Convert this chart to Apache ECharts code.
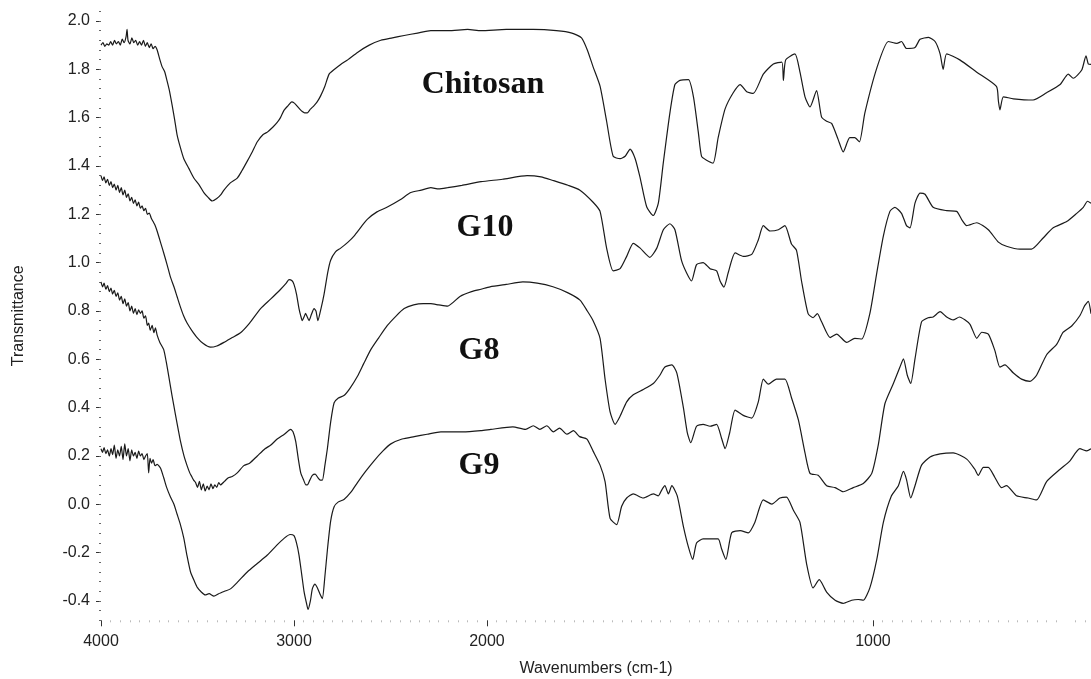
<!DOCTYPE html>
<html><head><meta charset="utf-8">
<script src="https://cdn.jsdelivr.net/npm/echarts@6/dist/echarts.min.js"></script>
<style>html,body{margin:0;padding:0;background:#fff}#c{width:1091px;height:679px}</style>
</head><body><div id="c"></div>
<script>
// ---- data (wavenumber cm-1, transmittance) ----
const chitosan = [[4000,1.90],[3990,1.91],[3980,1.895],[3970,1.905],[3960,1.90],[3950,1.915],[3940,1.90],[3930,1.92],[3920,1.905],[3910,1.915],[3900,1.90],[3890,1.925],[3880,1.91],[3870,1.935],[3865,1.965],[3860,1.92],[3850,1.905],[3840,1.93],[3830,1.91],[3820,1.92],[3810,1.90],[3800,1.915],[3790,1.90],[3780,1.92],[3770,1.895],[3760,1.91],[3750,1.89],[3740,1.905],[3730,1.885],[3720,1.895],[3709,1.88],[3695,1.84],[3683,1.81],[3670,1.79],[3657,1.75],[3645,1.71],[3631,1.65],[3618,1.59],[3606,1.53],[3590,1.48],[3571,1.43],[3545,1.39],[3519,1.35],[3490,1.32],[3467,1.29],[3445,1.27],[3424,1.255],[3400,1.265],[3380,1.28],[3363,1.30],[3330,1.33],[3294,1.35],[3270,1.38],[3242,1.42],[3215,1.46],[3190,1.50],[3160,1.53],[3138,1.54],[3110,1.56],[3087,1.58],[3070,1.60],[3052,1.63],[3030,1.65],[3012,1.665],[2998,1.66],[2986,1.65],[2970,1.635],[2957,1.625],[2945,1.62],[2931,1.62],[2915,1.635],[2896,1.65],[2880,1.665],[2862,1.69],[2840,1.73],[2818,1.78],[2790,1.80],[2758,1.82],[2720,1.84],[2671,1.87],[2610,1.90],[2550,1.92],[2490,1.93],[2429,1.94],[2360,1.95],[2291,1.96],[2200,1.96],[2100,1.965],[2031,1.96],[1950,1.965],[1880,1.965],[1820,1.96],[1780,1.95],[1755,1.93],[1740,1.88],[1725,1.81],[1707,1.73],[1690,1.585],[1673,1.44],[1655,1.43],[1642,1.44],[1629,1.47],[1616,1.43],[1603,1.35],[1586,1.23],[1569,1.195],[1556,1.246],[1543,1.415],[1526,1.62],[1513,1.737],[1500,1.754],[1478,1.757],[1465,1.686],[1452,1.534],[1444,1.44],[1431,1.424],[1414,1.412],[1401,1.517],[1383,1.636],[1362,1.703],[1344,1.737],[1327,1.707],[1310,1.70],[1284,1.78],[1258,1.822],[1236,1.83],[1232,1.754],[1226,1.839],[1202,1.864],[1189,1.788],[1176,1.686],[1163,1.644],[1146,1.712],[1133,1.602],[1120,1.585],[1107,1.576],[1090,1.509],[1077,1.458],[1060,1.517],[1047,1.517],[1035,1.50],[1021,1.619],[990,1.805],[960,1.915],[938,1.907],[926,1.915],[913,1.886],[891,1.89],[878,1.924],[856,1.932],[839,1.915],[826,1.864],[818,1.80],[809,1.864],[775,1.839],[731,1.788],[680,1.729],[675,1.67],[671,1.632],[662,1.686],[636,1.678],[585,1.673],[550,1.703],[515,1.737],[494,1.78],[481,1.763],[459,1.797],[448,1.856],[442,1.822],[435,1.82]];

const g10 = [[4000,1.36],[3992,1.34],[3984,1.355],[3975,1.33],[3966,1.345],[3957,1.32],[3948,1.335],[3940,1.31],[3931,1.325],[3922,1.30],[3913,1.32],[3904,1.29],[3895,1.31],[3886,1.28],[3877,1.30],[3868,1.27],[3859,1.285],[3850,1.255],[3841,1.27],[3832,1.245],[3823,1.26],[3814,1.235],[3805,1.25],[3796,1.225],[3787,1.235],[3778,1.215],[3769,1.225],[3760,1.20],[3750,1.205],[3740,1.185],[3730,1.17],[3720,1.155],[3709,1.13],[3690,1.08],[3675,1.04],[3657,0.99],[3640,0.94],[3622,0.90],[3606,0.86],[3590,0.82],[3572,0.78],[3554,0.75],[3530,0.72],[3502,0.69],[3470,0.665],[3433,0.65],[3400,0.655],[3363,0.67],[3320,0.69],[3277,0.71],[3230,0.75],[3173,0.81],[3120,0.85],[3069,0.89],[3040,0.915],[3026,0.93],[3010,0.925],[3000,0.91],[2987,0.87],[2974,0.81],[2965,0.78],[2957,0.76],[2948,0.775],[2940,0.79],[2931,0.775],[2922,0.76],[2910,0.785],[2896,0.81],[2886,0.80],[2876,0.76],[2860,0.81],[2844,0.87],[2825,0.96],[2810,1.01],[2785,1.045],[2758,1.06],[2720,1.085],[2689,1.11],[2650,1.15],[2619,1.18],[2570,1.21],[2516,1.23],[2450,1.26],[2395,1.29],[2340,1.30],[2291,1.31],[2250,1.305],[2204,1.31],[2130,1.32],[2031,1.335],[1960,1.345],[1896,1.36],[1860,1.355],[1829,1.34],[1790,1.32],[1759,1.30],[1725,1.25],[1707,1.212],[1690,1.06],[1673,0.966],[1655,0.975],[1638,1.026],[1621,1.08],[1603,1.06],[1578,1.022],[1560,1.06],[1543,1.136],[1526,1.161],[1513,1.136],[1496,1.009],[1483,0.958],[1470,0.924],[1457,0.992],[1440,1.00],[1422,0.975],[1405,0.966],[1396,0.924],[1386,0.899],[1375,0.958],[1357,1.04],[1336,1.026],[1314,1.034],[1297,1.094],[1284,1.153],[1267,1.131],[1245,1.136],[1228,1.153],[1211,1.077],[1198,1.051],[1185,0.924],[1168,0.789],[1155,0.772],[1144,0.789],[1133,0.755],[1111,0.690],[1094,0.704],[1068,0.670],[1047,0.687],[1029,0.684],[1008,0.789],[990,0.958],[973,1.11],[956,1.212],[943,1.229],[926,1.204],[913,1.153],[904,1.144],[891,1.246],[878,1.288],[865,1.283],[844,1.229],[809,1.215],[783,1.212],[770,1.178],[757,1.153],[731,1.165],[701,1.136],[675,1.085],[654,1.068],[619,1.056],[589,1.056],[559,1.102],[533,1.144],[498,1.17],[472,1.204],[455,1.229],[444,1.254],[435,1.246]];

const g8 = [[4000,0.92],[3992,0.90],[3984,0.915],[3975,0.89],[3966,0.905],[3957,0.88],[3948,0.895],[3940,0.87],[3931,0.885],[3922,0.86],[3913,0.875],[3904,0.845],[3895,0.86],[3886,0.83],[3877,0.85],[3868,0.82],[3859,0.835],[3850,0.80],[3841,0.82],[3832,0.79],[3823,0.81],[3814,0.785],[3805,0.805],[3796,0.79],[3787,0.80],[3778,0.77],[3769,0.78],[3760,0.74],[3753,0.75],[3745,0.72],[3735,0.74],[3726,0.71],[3718,0.73],[3709,0.70],[3695,0.67],[3675,0.64],[3662,0.59],[3649,0.53],[3632,0.45],[3614,0.37],[3600,0.31],[3588,0.26],[3570,0.20],[3554,0.16],[3540,0.13],[3530,0.115],[3520,0.10],[3510,0.09],[3500,0.07],[3490,0.095],[3480,0.06],[3470,0.085],[3460,0.055],[3450,0.075],[3440,0.06],[3430,0.085],[3420,0.065],[3410,0.08],[3400,0.07],[3390,0.09],[3381,0.08],[3360,0.095],[3340,0.11],[3320,0.115],[3294,0.13],[3260,0.16],[3230,0.17],[3190,0.20],[3150,0.23],[3120,0.245],[3087,0.27],[3050,0.29],[3017,0.31],[3005,0.30],[2991,0.26],[2978,0.19],[2965,0.13],[2950,0.10],[2938,0.08],[2931,0.08],[2918,0.10],[2905,0.12],[2890,0.125],[2876,0.11],[2864,0.10],[2853,0.10],[2840,0.16],[2827,0.23],[2810,0.34],[2792,0.42],[2770,0.44],[2741,0.45],[2710,0.48],[2671,0.53],[2640,0.58],[2602,0.64],[2560,0.69],[2516,0.74],[2470,0.78],[2429,0.81],[2380,0.825],[2330,0.83],[2291,0.83],[2250,0.825],[2204,0.82],[2140,0.86],[2080,0.88],[2031,0.89],[1992,0.90],[1950,0.91],[1907,0.92],[1870,0.915],[1829,0.90],[1790,0.875],[1759,0.845],[1740,0.80],[1725,0.76],[1707,0.687],[1694,0.518],[1681,0.382],[1668,0.331],[1655,0.365],[1638,0.424],[1621,0.453],[1595,0.475],[1569,0.50],[1552,0.534],[1539,0.568],[1521,0.577],[1508,0.543],[1491,0.399],[1481,0.297],[1472,0.255],[1457,0.323],[1440,0.331],[1422,0.323],[1405,0.331],[1392,0.272],[1383,0.23],[1371,0.297],[1357,0.39],[1336,0.368],[1314,0.357],[1297,0.424],[1284,0.518],[1271,0.497],[1250,0.518],[1228,0.518],[1211,0.441],[1193,0.348],[1176,0.213],[1163,0.128],[1142,0.12],[1120,0.077],[1098,0.069],[1077,0.052],[1051,0.069],[1025,0.086],[1003,0.128],[986,0.247],[969,0.416],[947,0.50],[930,0.568],[921,0.602],[911,0.534],[902,0.50],[891,0.602],[874,0.755],[857,0.772],[844,0.775],[826,0.797],[809,0.775],[792,0.763],[776,0.775],[749,0.746],[731,0.687],[718,0.712],[701,0.704],[684,0.636],[671,0.568],[658,0.577],[636,0.543],[615,0.518],[593,0.509],[576,0.534],[550,0.619],[524,0.662],[507,0.712],[485,0.738],[464,0.78],[451,0.823],[442,0.84],[435,0.789]];

const g9 = [[4000,0.23],[3992,0.215],[3984,0.235],[3975,0.21],[3966,0.225],[3957,0.20],[3948,0.23],[3940,0.205],[3931,0.245],[3922,0.19],[3913,0.225],[3904,0.20],[3895,0.24],[3886,0.185],[3877,0.25],[3868,0.20],[3859,0.23],[3850,0.18],[3841,0.225],[3832,0.20],[3823,0.215],[3814,0.19],[3805,0.22],[3796,0.20],[3787,0.21],[3778,0.185],[3769,0.20],[3760,0.21],[3753,0.13],[3746,0.19],[3738,0.17],[3730,0.185],[3720,0.16],[3709,0.165],[3692,0.15],[3675,0.11],[3660,0.07],[3640,0.03],[3622,0.00],[3606,-0.04],[3590,-0.08],[3571,-0.14],[3555,-0.21],[3536,-0.28],[3515,-0.32],[3500,-0.345],[3484,-0.36],[3460,-0.375],[3440,-0.37],[3415,-0.38],[3390,-0.37],[3360,-0.36],[3329,-0.35],[3290,-0.32],[3242,-0.28],[3190,-0.245],[3138,-0.21],[3090,-0.17],[3050,-0.14],[3020,-0.125],[3000,-0.13],[2987,-0.16],[2974,-0.21],[2960,-0.29],[2948,-0.36],[2935,-0.41],[2927,-0.435],[2915,-0.40],[2905,-0.35],[2892,-0.33],[2879,-0.345],[2866,-0.37],[2853,-0.39],[2840,-0.30],[2827,-0.19],[2810,-0.07],[2792,-0.01],[2770,0.01],[2741,0.02],[2705,0.05],[2671,0.09],[2630,0.135],[2585,0.18],[2540,0.22],[2498,0.25],[2440,0.27],[2377,0.28],[2310,0.29],[2239,0.30],[2124,0.30],[2031,0.305],[1990,0.31],[1933,0.32],[1900,0.31],[1880,0.325],[1863,0.31],[1845,0.325],[1828,0.30],[1812,0.315],[1793,0.29],[1776,0.305],[1760,0.28],[1741,0.27],[1725,0.22],[1707,0.162],[1694,0.094],[1681,-0.058],[1664,-0.084],[1651,-0.008],[1638,0.026],[1621,0.043],[1595,0.026],[1569,0.043],[1556,0.035],[1547,0.06],[1539,0.077],[1530,0.043],[1521,0.077],[1507,0.035],[1491,-0.092],[1478,-0.177],[1467,-0.228],[1457,-0.16],[1440,-0.143],[1422,-0.143],[1401,-0.143],[1392,-0.185],[1381,-0.228],[1366,-0.118],[1344,-0.109],[1323,-0.118],[1306,-0.075],[1284,0.018],[1262,0.001],[1241,0.026],[1224,0.03],[1206,-0.025],[1189,-0.075],[1172,-0.245],[1155,-0.346],[1139,-0.312],[1120,-0.363],[1098,-0.397],[1077,-0.41],[1055,-0.397],[1038,-0.394],[1025,-0.397],[1008,-0.346],[990,-0.228],[973,-0.075],[952,0.035],[934,0.077],[921,0.136],[913,0.102],[902,0.026],[891,0.077],[874,0.162],[852,0.196],[826,0.209],[792,0.213],[757,0.187],[736,0.145],[727,0.12],[714,0.153],[701,0.153],[684,0.111],[667,0.069],[654,0.077],[628,0.035],[598,0.026],[576,0.018],[550,0.094],[515,0.145],[490,0.179],[464,0.23],[446,0.221],[435,0.23]];

const seriesNames = ['Chitosan', 'G10', 'G8', 'G9'];
const xTickLabels = [4000, 3000, 2000, 1000];
const yTickLabels = [-0.4, -0.2, 0.0, 0.2, 0.4, 0.6, 0.8, 1.0, 1.2, 1.4, 1.6, 1.8, 2.0];
const xRange = [4000, 435];
const yRange = [-0.48, 2.04];

// Wavenumber axis with 2x expansion below 2000 cm-1 (typical FTIR layout)
function toU(w) { return w >= 2000 ? 4000 - w : 2000 + 2 * (2000 - w); }
function fromU(u) { return u <= 2000 ? 4000 - u : 2000 - (u - 2000) / 2; }

const chart = echarts.init(document.getElementById('c'));
const allData = [chitosan, g10, g8, g9];
const labelPos = [[483, 85], [485, 228], [479, 351], [479, 466]];

chart.setOption({
  animation: false,
  backgroundColor: '#fff',
  grid: { left: 101, right: 0, top: 11.3, bottom: 58.7, containLabel: false, outerBoundsMode: 'none' },
  xAxis: {
    type: 'value', min: toU(xRange[0]), max: toU(xRange[1]), interval: 1000,
    name: 'Wavenumbers (cm-1)', nameLocation: 'middle', nameGap: 40,
    nameTextStyle: { fontFamily: 'Liberation Sans', fontSize: 16, color: '#222' },
    axisLine: { show: false, onZero: false },
    splitLine: { show: false },
    axisTick: { show: true, length: 6, customValues: xTickLabels.map(toU), lineStyle: { color: '#333' } },
    minorTick: { show: true, splitNumber: 20, length: 2, lineStyle: { color: '#bbb' } },
    axisLabel: { customValues: xTickLabels.map(toU), margin: 13, fontFamily: 'Liberation Sans', fontSize: 16, color: '#222',
      formatter: v => String(Math.round(fromU(v))) }
  },
  yAxis: [{
    type: 'value', min: yRange[0], max: yRange[1], interval: 0.04,
    name: 'Transmittance', nameLocation: 'middle', nameGap: 74, nameRotate: 90,
    nameTextStyle: { fontFamily: 'Liberation Sans', fontSize: 16, color: '#222' },
    axisLine: { show: false, onZero: false }, splitLine: { show: false },
    axisTick: { show: true, length: 5, customValues: yTickLabels, lineStyle: { color: '#333' } },
    axisLabel: { customValues: yTickLabels, margin: 11, fontFamily: 'Liberation Sans', fontSize: 16, color: '#222',
      formatter: v => v.toFixed(1) }
  }, {
    type: 'value', min: yRange[0], max: yRange[1], interval: 0.04, position: 'left',
    axisLine: { show: false, onZero: false }, splitLine: { show: false }, axisLabel: { show: false },
    axisTick: { show: true, length: 2, lineStyle: { color: '#666' } }
  }],
  graphic: seriesNames.map((n, i) => ({
    type: 'text', x: labelPos[i][0], y: labelPos[i][1],
    style: { text: n, font: 'bold 32px "Liberation Serif"', fill: '#111', textAlign: 'center', textVerticalAlign: 'middle' }
  })),
  series: allData.map((d, i) => ({
    name: seriesNames[i], type: 'line', showSymbol: false, smooth: 0.2,
    lineStyle: { color: '#1a1a1a', width: 1.2 },
    data: d.map(p => [toU(p[0]), p[1]])
  }))
});
</script></body></html>
